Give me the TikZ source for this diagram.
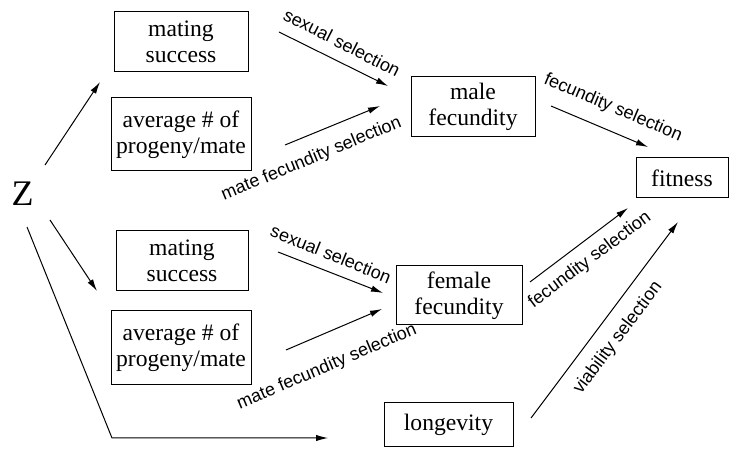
\documentclass[tikz,border=0pt]{standalone}
\usepackage{fontspec}
\setmainfont{Liberation Serif}
\setsansfont{Liberation Sans}
\usetikzlibrary{arrows.meta}

\begin{document}
\begin{tikzpicture}[x=0.5pt,y=-0.5pt,
    box/.style={draw, line width=0.5pt, align=center, inner sep=0pt,
      font=\fontsize{11.8}{13}\selectfont},
    arr/.style={line width=0.5pt, -{Latex[length=6pt,width=3.2pt]}},
    lbl/.style={font=\sffamily\fontsize{9}{10}\selectfont, inner sep=0pt}]
    \useasboundingbox (0,0) rectangle (730,449);
    % Trait
    \node[font=\fontsize{18}{18}\selectfont, inner sep=0pt] (z) at (22.5,194) {Z};
    % Male components
    \node[box, minimum width=67pt, minimum height=30pt] (msm) at (181,42) {mating\\success};
    \node[box, minimum width=70pt, minimum height=36.5pt] (avgm) at (181,134.5) {average \# of\\progeny/mate};
    \node[box, minimum width=62pt, minimum height=30pt] (male) at (473,107) {male\\fecundity};
    % Female components
    \node[box, minimum width=66pt, minimum height=30pt] (msf) at (182,261) {mating\\success};
    \node[box, minimum width=70pt, minimum height=37pt] (avgf) at (181,348) {average \# of\\progeny/mate};
    \node[box, minimum width=63pt, minimum height=29.5pt] (female) at (459,295.5) {female\\fecundity};
    \node[box, minimum width=64.5pt, minimum height=22pt] (lon) at (448.5,425) {longevity};
    % Fitness
    \node[box, minimum width=46pt, minimum height=20pt] (fit) at (682,178) {fitness};
    % Arrow ends
    \coordinate (zup) at (45,165);   \coordinate (msmin) at (100,82);
    \coordinate (zdn) at (50,220);   \coordinate (msfin) at (97,291);
    \coordinate (zlow) at (27,227);  \coordinate (bend) at (112,438);
    \coordinate (lonin) at (328,438);
    \coordinate (ssm) at (279,32);   \coordinate (ssme) at (388,86);
    \coordinate (mfm) at (285,145);  \coordinate (mfme) at (380,106);
    \coordinate (fsm) at (551,106);  \coordinate (fsme) at (648,147);
    \coordinate (ssf) at (278,252);  \coordinate (ssfe) at (383,293);
    \coordinate (mff) at (286,350);  \coordinate (mffe) at (382,309);
    \coordinate (fsf) at (530,282);  \coordinate (fsfe) at (628,208);
    \coordinate (vs) at (531,418);   \coordinate (vse) at (678,222);
    % Arrows from Z
    \draw[arr] (zup) -- (msmin);
    \draw[arr] (zdn) -- (msfin);
    \draw[arr] (zlow) -- (bend) -- (lonin);
    % Selection arrows
    \draw[arr] (ssm) -- (ssme);
    \draw[arr] (mfm) -- (mfme);
    \draw[arr] (fsm) -- (fsme);
    \draw[arr] (ssf) -- (ssfe);
    \draw[arr] (mff) -- (mffe);
    \draw[arr] (fsf) -- (fsfe);
    \draw[arr] (vs) -- (vse);
    % Labels
    \node[lbl, rotate=-27] (lssm) at (342,42.5) {sexual selection};
    \node[lbl, rotate=22.5] (lmfm) at (311.5,159) {mate fecundity selection};
    \node[lbl, rotate=-23] (lfsm) at (613,108) {fecundity selection};
    \node[lbl, rotate=-22] (lssf) at (331,254) {sexual selection};
    \node[lbl, rotate=23] (lmff) at (327,367) {mate fecundity selection};
    \node[lbl, rotate=37] (lfsf) at (590,260) {fecundity selection};
    \node[lbl, rotate=53] (lvs) at (618,338) {viability selection};
\end{tikzpicture}
\end{document}
